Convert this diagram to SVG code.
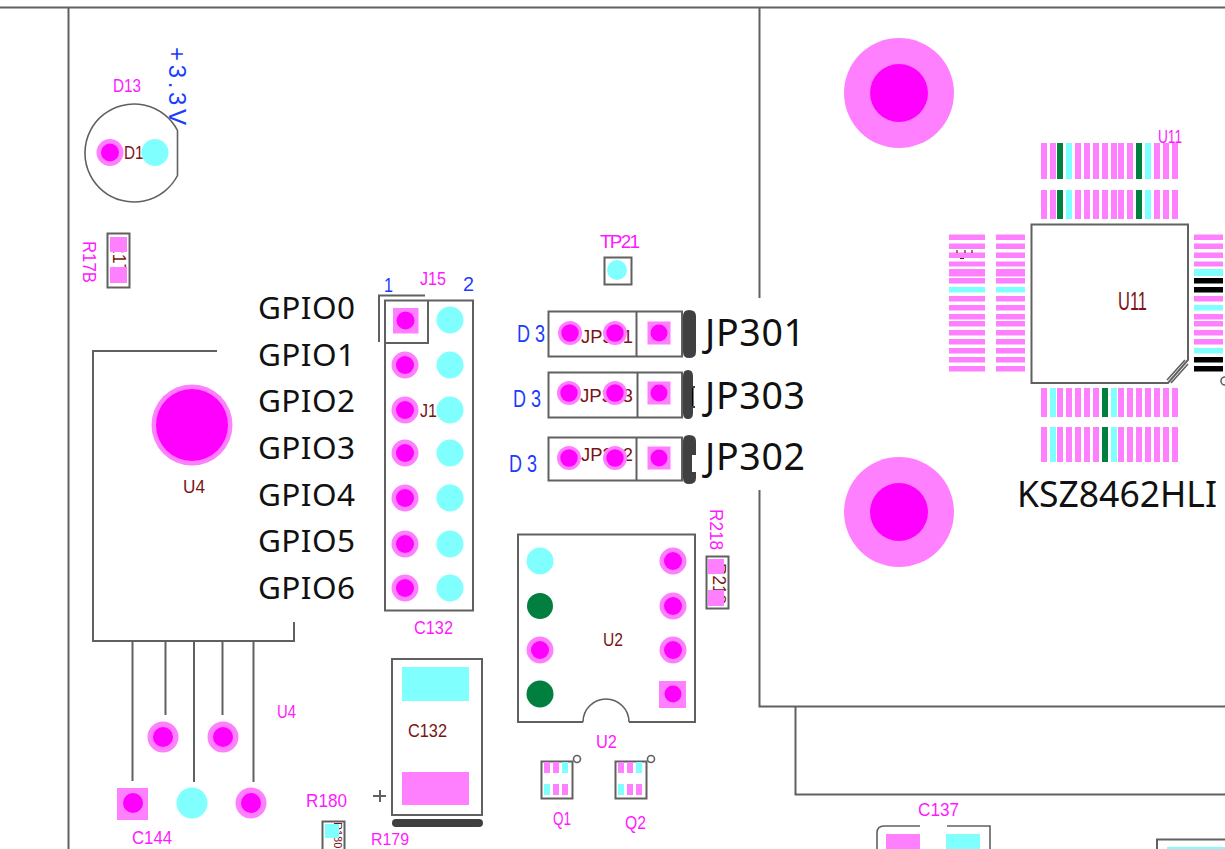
<svg xmlns="http://www.w3.org/2000/svg" width="1225" height="849" viewBox="0 0 1225 849">
<style>
.o{fill:none;stroke:#606060;stroke-width:1.6}
.t{fill:none;stroke:#606060;stroke-width:2}
.lp{fill:#ff80ff}.mg{fill:#ff00ff}.cy{fill:#80ffff}.gr{fill:#007f3f}.bk{fill:#000}.dk{fill:#404040}
text{font-family:"Liberation Sans",Arial,sans-serif}
.pl{fill:#ff19ff;font-size:19px}
.mr{fill:#7a1414;font-size:19px}
.bl{fill:#1a3cff;font-size:24px}
.big{fill:#111;font-family:"Noto Sans","Open Sans",sans-serif;font-size:31.500px}
.lbl{fill:#111;font-family:"Noto Sans","Open Sans",sans-serif;font-size:37.500px}
</style>
<defs>
<g id="tp"><circle r="13.500" class="lp"/><circle r="9" class="mg"/></g>
<g id="sq"><rect x="-11.500" y="-11.500" width="23" height="23" class="lp"/><circle r="8.500" class="mg"/></g>
<g id="small"><circle r="12" class="lp"/><circle r="8.700" class="mg"/></g>
<g id="big"><circle r="55" class="lp"/><circle r="29" class="mg"/></g>
<g id="pl"><circle r="15.500" class="lp"/><circle r="10" class="mg"/></g>
<circle id="cy" r="13.500" class="cy"/>
</defs>
<rect width="1225" height="849" fill="#fff"/>
<g id="connectors">
<path class="t" d="M0 7.500H1225M68.500 7V849M759.500 7V298M759.500 490V706.500H1225M795.500 706V794.500H1225"/>
<path class="t" d="M132.500 641V781M165.500 641V715M194 641V782M222.500 641V715M253.500 641V782"/>
</g>
<g id="holes"><use href="#big" x="899" y="93"/><use href="#big" x="899" y="512"/></g>
<g id="D13">
<path class="o" d="M177.500 130.500A49 49 0 1 0 177.500 175.500Z"/>
<text class="mr" x="124" y="159" textLength="28" lengthAdjust="spacingAndGlyphs">D13</text>
<use href="#tp" x="110" y="152.500"/><circle cx="155" cy="152.500" r="13.500" class="cy"/>
<text class="pl" x="113" y="92" textLength="28" lengthAdjust="spacingAndGlyphs">D13</text>
<text class="bl" transform="translate(169,47) rotate(90)" textLength="78">+3.3V</text>
</g>
<g id="R178">
<rect class="t" x="107.500" y="233.500" width="22" height="54"/>
<text class="mr" transform="translate(113,241) rotate(90)" textLength="42" lengthAdjust="spacingAndGlyphs">R178</text>
<rect class="lp" x="110" y="237" width="17" height="15"/><rect class="lp" x="110" y="267" width="17" height="16"/>
<text class="pl" transform="translate(83,241) rotate(90)" textLength="42" lengthAdjust="spacingAndGlyphs">R17B</text>
</g>
<g id="J15">
<rect class="t" x="385" y="300.500" width="88" height="310"/>
<path class="t" d="M385 343H428V300.500M379 342V295.500H425"/>
<text class="mr" x="420" y="417" textLength="26" lengthAdjust="spacingAndGlyphs">J15</text>
<g><rect x="393" y="308" width="25.500" height="25.500" class="lp"/><circle cx="405.500" cy="320.500" r="9" class="mg"/></g>
<use href="#tp" x="405" y="365"/><use href="#tp" x="405" y="410"/><use href="#tp" x="405" y="453"/><use href="#tp" x="405" y="498"/><use href="#tp" x="405" y="544"/><use href="#tp" x="405" y="588"/>
<use href="#cy" x="450" y="320"/><use href="#cy" x="450" y="365"/><use href="#cy" x="450" y="410"/><use href="#cy" x="450" y="453"/><use href="#cy" x="450" y="498"/><use href="#cy" x="450" y="544"/><use href="#cy" x="450" y="588"/>
<text class="pl" x="420" y="285" textLength="26" lengthAdjust="spacingAndGlyphs">J15</text><text class="bl" style="font-size:21px" x="384" y="292" textLength="9" lengthAdjust="spacingAndGlyphs">1</text><text class="bl" style="font-size:21px" x="463" y="291" textLength="11" lengthAdjust="spacingAndGlyphs">2</text>
<text class="pl" x="414" y="634" textLength="39" lengthAdjust="spacingAndGlyphs">C132</text>
</g>
<g id="GPIO-labels">
<text class="big" x="258" y="319" textLength="97">GPIO0</text><text class="big" x="258" y="366" textLength="97">GPIO1</text><text class="big" x="258" y="412" textLength="97">GPIO2</text><text class="big" x="258" y="459" textLength="97">GPIO3</text><text class="big" x="258" y="506" textLength="97">GPIO4</text><text class="big" x="258" y="552" textLength="97">GPIO5</text><text class="big" x="258" y="599" textLength="97">GPIO6</text>
</g>
<g id="U4">
<path class="t" d="M217 351H93V641H294V622"/>
<circle cx="192" cy="425" r="40.500" class="lp"/><circle cx="192" cy="425" r="36" class="mg"/>
<text class="mr" x="183" y="493" textLength="22" lengthAdjust="spacingAndGlyphs">U4</text>
<use href="#pl" x="163" y="737"/><use href="#pl" x="223" y="737"/>
<rect class="lp" x="117" y="788" width="31" height="32"/><circle class="mg" cx="133" cy="803" r="10"/>
<circle class="cy" cx="192" cy="803" r="15.500"/><use href="#pl" x="251" y="803"/>
<text class="pl" x="277" y="718" textLength="19" lengthAdjust="spacingAndGlyphs">U4</text><text class="pl" x="132" y="844" textLength="40" lengthAdjust="spacingAndGlyphs">C144</text>
</g>
<g id="TP21">
<rect class="t" x="604.500" y="257.500" width="27" height="27"/><circle class="cy" cx="617" cy="270" r="10"/>
<text class="pl" x="600" y="248" textLength="40">TP21</text>
</g>
<g id="JP301">
<rect class="t" x="548.500" y="311.500" width="133.500" height="45"/><path class="t" d="M636.500 311V356"/>
<path class="dk" d="M683 316Q683 310 689 310Q696 310 696 316V352Q696 358 689 358Q683 358 683 352Z"/>
<text class="mr" x="581" y="343" textLength="52" lengthAdjust="spacingAndGlyphs">JP301</text>
<use href="#small" x="570" y="333"/><use href="#small" x="615" y="333"/><use href="#sq" x="659" y="333"/>
<text class="bl" x="517" y="342" textLength="28" lengthAdjust="spacingAndGlyphs">D 3</text>
<text class="lbl" x="705" y="346" textLength="100">JP301</text>
</g>
<g id="JP303">
<rect class="t" x="548.500" y="372.500" width="133.500" height="45"/><path class="t" d="M637.500 372V417"/>
<path class="dk" d="M683 376Q683 370 688 370Q693 370 693 376V386H695V408H693V413Q693 419 688 419Q683 419 683 413Z"/>
<rect x="693" y="388" width="3" height="18" fill="#fff"/><rect x="692" y="388" width="1.500" height="18" class="bk"/>
<text class="mr" x="580" y="402" textLength="53" lengthAdjust="spacingAndGlyphs">JP303</text>
<use href="#small" x="569" y="393"/><use href="#small" x="615" y="393"/><use href="#sq" x="659" y="393"/>
<text class="bl" x="513" y="407" textLength="28" lengthAdjust="spacingAndGlyphs">D 3</text>
<text class="lbl" x="705" y="409" textLength="100">JP303</text>
</g>
<g id="JP302">
<rect class="t" x="548.500" y="437.500" width="133.500" height="43"/><path class="t" d="M636.500 437V481"/>
<path class="dk" d="M683 441Q683 435 689 435Q696 435 696 441V455H692V472H696V478Q696 484 689 484Q683 484 683 478Z"/>
<text class="mr" x="581" y="461" textLength="52" lengthAdjust="spacingAndGlyphs">JP302</text>
<use href="#small" x="569" y="458"/><use href="#small" x="615" y="458"/><use href="#sq" x="659" y="458"/>
<text class="bl" x="509" y="472" textLength="28" lengthAdjust="spacingAndGlyphs">D 3</text>
<text class="lbl" x="705" y="470" textLength="100">JP302</text>
</g>
<g id="U2">
<path class="t" d="M583 722H518V534.500H695V722H629"/>
<path class="o" d="M583 722A23 23 0 0 1 629 722"/>
<circle class="cy" cx="540" cy="561" r="13.500"/><circle class="gr" cx="540" cy="606" r="13"/><use href="#tp" x="540" y="650"/><circle class="gr" cx="540" cy="694" r="13.500"/>
<use href="#tp" x="673" y="561"/><use href="#tp" x="673" y="606"/><use href="#tp" x="673" y="650"/>
<rect class="lp" x="659" y="681" width="27" height="27"/><circle class="mg" cx="673" cy="694" r="8.500"/>
<text class="mr" x="603" y="646" textLength="20" lengthAdjust="spacingAndGlyphs">U2</text><text class="pl" x="596" y="748" textLength="21" lengthAdjust="spacingAndGlyphs">U2</text>
</g>
<g id="R218">
<rect class="t" x="706.500" y="556.500" width="22" height="52"/>
<text class="mr" transform="translate(713,563) rotate(90)" textLength="41" lengthAdjust="spacingAndGlyphs">R218</text>
<rect class="lp" x="708" y="559" width="16" height="15"/><rect class="lp" x="708" y="590" width="16" height="16"/>
<text class="pl" transform="translate(710,509) rotate(90)" textLength="41" lengthAdjust="spacingAndGlyphs">R218</text>
</g>
<g id="Q1">
<rect class="t" x="541.500" y="761.500" width="31" height="37"/><circle cx="577" cy="759" r="3.500" class="o"/>
<rect class="lp" x="544" y="762" width="6" height="11"/><rect class="lp" x="553" y="762" width="6" height="11"/><rect class="cy" x="562" y="762" width="6" height="11"/>
<rect class="cy" x="544" y="784" width="6" height="11"/><rect class="lp" x="553" y="784" width="6" height="11"/><rect class="lp" x="562" y="784" width="6" height="11"/>
<text class="pl" x="553" y="825" textLength="18" lengthAdjust="spacingAndGlyphs">Q1</text>
</g>
<g id="Q2">
<rect class="t" x="615.500" y="761.500" width="31" height="37"/><circle cx="651" cy="759" r="3.500" class="o"/>
<rect class="lp" x="618" y="762" width="6" height="11"/><rect class="lp" x="627" y="762" width="6" height="11"/><rect class="cy" x="636" y="762" width="6" height="11"/>
<rect class="cy" x="618" y="784" width="6" height="11"/><rect class="lp" x="627" y="784" width="6" height="11"/><rect class="lp" x="636" y="784" width="6" height="11"/>
<text class="pl" x="625" y="829" textLength="21" lengthAdjust="spacingAndGlyphs">Q2</text>
</g>
<g id="C132">
<rect class="t" x="392" y="659" width="90" height="156"/>
<rect class="cy" x="402" y="667" width="67" height="34"/><rect class="lp" x="402" y="772" width="67" height="33"/>
<rect class="dk" x="392" y="819" width="91" height="8" rx="4"/>
<text class="mr" x="408" y="737" textLength="39" lengthAdjust="spacingAndGlyphs">C132</text>
<path class="t" d="M373 796H386M380 790V802"/>
</g>
<g id="R180">
<rect class="t" x="322.500" y="821.500" width="22" height="30"/>
<text class="mr" style="font-size:11px" transform="translate(334,822) rotate(90)">R180</text>
<rect class="cy" x="325" y="824" width="14" height="14"/>
<text class="pl" x="306" y="807" textLength="41" lengthAdjust="spacingAndGlyphs">R180</text><text class="pl" style="font-size:17px" x="371" y="845" textLength="38" lengthAdjust="spacingAndGlyphs">R179</text>
</g>
<g id="C137">
<path class="o" d="M920 826H884Q877 826 877 833V849M947 826H990V849"/>
<rect class="lp" x="886" y="834" width="34" height="15"/><rect class="cy" x="946" y="834" width="34" height="15"/>
<text class="pl" x="918" y="816" textLength="41" lengthAdjust="spacingAndGlyphs">C137</text>
</g>
<g id="corner-part"><path class="t" d="M1157 849V839.500H1225"/><rect class="cy" x="1167" y="847" width="58" height="2"/></g>
<g id="U11">
<path class="t" d="M1031.500 224.500H1188V360L1168 383H1031.500Z"/>
<path class="o" d="M1188 364L1171 383M1185 360L1167 380"/>
<g id="U11-top">
<rect class="lp" x="1041" y="143" width="6" height="36"/><rect class="lp" x="1050" y="143" width="6" height="36"/><rect class="gr" x="1057" y="143" width="6" height="36"/><rect class="cy" x="1066" y="143" width="6" height="36"/><rect class="lp" x="1075" y="143" width="6" height="36"/><rect class="lp" x="1084" y="143" width="6" height="36"/><rect class="lp" x="1093" y="143" width="6" height="36"/><rect class="lp" x="1102" y="143" width="6" height="36"/><rect class="lp" x="1111" y="143" width="6" height="36"/><rect class="lp" x="1118" y="143" width="6" height="36"/><rect class="lp" x="1127" y="143" width="6" height="36"/><rect class="gr" x="1136" y="143" width="6" height="36"/><rect class="cy" x="1145" y="143" width="6" height="36"/><rect class="lp" x="1154" y="143" width="6" height="36"/><rect class="lp" x="1163" y="143" width="6" height="36"/><rect class="lp" x="1172" y="143" width="6" height="36"/>
<rect class="lp" x="1041" y="190" width="6" height="29"/><rect class="lp" x="1050" y="190" width="6" height="29"/><rect class="gr" x="1057" y="190" width="6" height="29"/><rect class="cy" x="1066" y="190" width="6" height="29"/><rect class="lp" x="1075" y="190" width="6" height="29"/><rect class="lp" x="1084" y="190" width="6" height="29"/><rect class="lp" x="1093" y="190" width="6" height="29"/><rect class="lp" x="1102" y="190" width="6" height="29"/><rect class="lp" x="1111" y="190" width="6" height="29"/><rect class="lp" x="1118" y="190" width="6" height="29"/><rect class="lp" x="1127" y="190" width="6" height="29"/><rect class="gr" x="1136" y="190" width="6" height="29"/><rect class="cy" x="1145" y="190" width="6" height="29"/><rect class="lp" x="1154" y="190" width="6" height="29"/><rect class="lp" x="1163" y="190" width="6" height="29"/><rect class="lp" x="1172" y="190" width="6" height="29"/>
</g>
<g id="U11-bottom">
<rect class="lp" x="1041" y="388" width="6" height="29"/><rect class="cy" x="1050" y="388" width="6" height="29"/><rect class="lp" x="1057" y="388" width="6" height="29"/><rect class="lp" x="1066" y="388" width="6" height="29"/><rect class="lp" x="1075" y="388" width="6" height="29"/><rect class="lp" x="1084" y="388" width="6" height="29"/><rect class="lp" x="1093" y="388" width="6" height="29"/><rect class="gr" x="1102" y="388" width="6" height="29"/><rect class="cy" x="1111" y="388" width="6" height="29"/><rect class="lp" x="1118" y="388" width="6" height="29"/><rect class="lp" x="1127" y="388" width="6" height="29"/><rect class="lp" x="1136" y="388" width="6" height="29"/><rect class="lp" x="1145" y="388" width="6" height="29"/><rect class="lp" x="1154" y="388" width="6" height="29"/><rect class="lp" x="1163" y="388" width="6" height="29"/><rect class="lp" x="1172" y="388" width="6" height="29"/>
<rect class="lp" x="1041" y="427" width="6" height="35"/><rect class="cy" x="1050" y="427" width="6" height="35"/><rect class="lp" x="1057" y="427" width="6" height="35"/><rect class="lp" x="1066" y="427" width="6" height="35"/><rect class="lp" x="1075" y="427" width="6" height="35"/><rect class="lp" x="1084" y="427" width="6" height="35"/><rect class="lp" x="1093" y="427" width="6" height="35"/><rect class="gr" x="1102" y="427" width="6" height="35"/><rect class="cy" x="1111" y="427" width="6" height="35"/><rect class="lp" x="1118" y="427" width="6" height="35"/><rect class="lp" x="1127" y="427" width="6" height="35"/><rect class="lp" x="1136" y="427" width="6" height="35"/><rect class="lp" x="1145" y="427" width="6" height="35"/><rect class="lp" x="1154" y="427" width="6" height="35"/><rect class="lp" x="1163" y="427" width="6" height="35"/><rect class="lp" x="1172" y="427" width="6" height="35"/>
</g>
<g id="U11-left">
<rect class="lp" x="949" y="234.500" width="36" height="5.500"/><rect class="lp" x="949" y="243.500" width="36" height="5.500"/><rect class="lp" x="949" y="252.500" width="36" height="5.500"/><rect class="lp" x="949" y="261.500" width="36" height="5"/><rect class="lp" x="949" y="269" width="36" height="7.500"/><rect class="lp" x="949" y="278" width="36" height="5.500"/><rect class="cy" x="949" y="287" width="36" height="5.500"/><rect class="lp" x="949" y="296" width="36" height="5.500"/><rect class="lp" x="949" y="305" width="36" height="5.500"/><rect class="lp" x="949" y="314" width="36" height="5.500"/><rect class="lp" x="949" y="321" width="36" height="5.500"/><rect class="lp" x="949" y="330" width="36" height="5.500"/><rect class="lp" x="949" y="339" width="36" height="5.500"/><rect class="lp" x="949" y="348" width="36" height="5.500"/><rect class="lp" x="949" y="357" width="36" height="5.500"/><rect class="lp" x="949" y="366" width="36" height="5.500"/>
<rect class="lp" x="996" y="234.500" width="29" height="5.500"/><rect class="lp" x="996" y="243.500" width="29" height="5.500"/><rect class="lp" x="996" y="252.500" width="29" height="5.500"/><rect class="lp" x="996" y="261.500" width="29" height="5"/><rect class="lp" x="996" y="269" width="29" height="7.500"/><rect class="lp" x="996" y="278" width="29" height="5.500"/><rect class="cy" x="996" y="287" width="29" height="5.500"/><rect class="lp" x="996" y="296" width="29" height="5.500"/><rect class="lp" x="996" y="305" width="29" height="5.500"/><rect class="lp" x="996" y="314" width="29" height="5.500"/><rect class="lp" x="996" y="321" width="29" height="5.500"/><rect class="lp" x="996" y="330" width="29" height="5.500"/><rect class="lp" x="996" y="339" width="29" height="5.500"/><rect class="lp" x="996" y="348" width="29" height="5.500"/><rect class="lp" x="996" y="357" width="29" height="5.500"/><rect class="lp" x="996" y="366" width="29" height="5.500"/>
<path d="M957 250V253M965 250V253M972 250V253M960 258.500H964" stroke="#7a1414" stroke-width="1.200" fill="none"/>
</g>
<g id="U11-right">
<rect class="lp" x="1194" y="234.500" width="29" height="5.500"/><rect class="lp" x="1194" y="243.500" width="29" height="5.500"/><rect class="lp" x="1194" y="252.500" width="29" height="5.500"/><rect class="lp" x="1194" y="261.500" width="29" height="5"/><rect class="cy" x="1194" y="269" width="29" height="7"/><rect class="bk" x="1194" y="278" width="29" height="5.500"/><rect class="bk" x="1194" y="287" width="29" height="5.500"/><rect class="lp" x="1194" y="296" width="29" height="5.500"/><rect class="cy" x="1194" y="305" width="29" height="5.500"/><rect class="lp" x="1194" y="314" width="29" height="5.500"/><rect class="lp" x="1194" y="321" width="29" height="5.500"/><rect class="lp" x="1194" y="330" width="29" height="5.500"/><rect class="lp" x="1194" y="339" width="29" height="5.500"/><rect class="cy" x="1194" y="348" width="29" height="5.500"/><rect class="bk" x="1194" y="357" width="29" height="5.500"/><rect class="bk" x="1194" y="366" width="29" height="5.500"/>
<circle cx="1225" cy="381" r="4" class="o"/>
</g>
<text class="pl" x="1158" y="143" textLength="24" lengthAdjust="spacingAndGlyphs">U11</text><text class="mr" style="font-size:25px" x="1118" y="310" textLength="29" lengthAdjust="spacingAndGlyphs">U11</text>
<text class="lbl" style="font-size:36px" x="1017" y="507" textLength="200" lengthAdjust="spacingAndGlyphs">KSZ8462HLI</text>
</g>
</svg>
